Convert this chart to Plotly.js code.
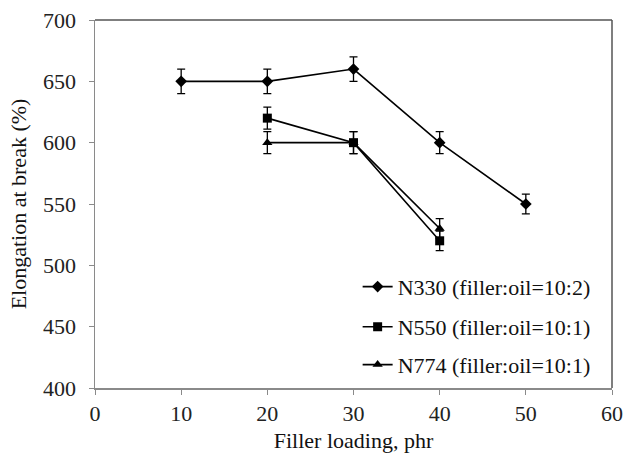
<!DOCTYPE html>
<html><head><meta charset="utf-8">
<script src="https://cdn.plot.ly/plotly-3.0.1.min.js"></script>
<style>body{margin:0;background:#fff}#c{width:624px;height:453px}</style>
</head><body><div id="c"></div>
<script>
const n330_x = [10, 20, 30, 40, 50];
const n330_y = [650, 650, 660, 600, 550];
const n330_err = [10, 10, 10, 9, 8];
const n550_x = [20, 30, 40];
const n550_y = [620, 600, 520];
const n550_err = [9, 9, 8];
const n774_x = [20, 30, 40];
const n774_y = [600, 600, 530];
const n774_err = [9, 9, 8];
const names = ["N330 (filler:oil=10:2)", "N550 (filler:oil=10:1)", "N774 (filler:oil=10:1)"];

const FONT = "'Liberation Serif', 'Times New Roman', serif";
function tr(x, y, e, name, sym, lg) {
  return {x: x, y: y, name: name, type: 'scatter', mode: 'lines+markers', legend: lg, showlegend: true,
    line: {color: '#000', width: 1.6},
    marker: {symbol: sym, size: 9, color: '#000'},
    error_y: {type: 'data', array: e, visible: true, color: '#000', thickness: 1.3, width: 4}};
}
const data = [
  tr(n330_x, n330_y, n330_err, names[0], 'diamond', 'legend'),
  tr(n550_x, n550_y, n550_err, names[1], 'square', 'legend2'),
  tr(n774_x, n774_y, n774_err, names[2], 'triangle-up', 'legend3')
];
const lfont = {family: FONT, size: 22, color: '#111'};
function lg(y) { return {x: 0.508, xanchor: 'left', y: y, yanchor: 'middle', font: lfont, bgcolor: 'rgba(0,0,0,0)', itemwidth: 30}; }
const layout = {
  width: 624, height: 453,
  showlegend: true,
  margin: {l: 95, r: 12, t: 20, b: 65},
  paper_bgcolor: '#fff', plot_bgcolor: '#fff',
  font: {family: FONT, size: 22, color: '#222'},
  xaxis: {range: [0, 60], dtick: 10, tick0: 0, showgrid: false, zeroline: false,
    showline: true, linecolor: '#8a8a8a', linewidth: 1.5, ticks: 'outside', ticklen: 5, tickcolor: '#8a8a8a',
    tickfont: {family: FONT, size: 22, color: '#222'},
    title: {text: 'Filler loading, phr', font: {family: FONT, size: 22, color: '#111'}, standoff: 24}},
  yaxis: {range: [400, 700], dtick: 50, showgrid: false, zeroline: false,
    showline: true, linecolor: '#8a8a8a', linewidth: 1.5, ticks: 'outside', ticklen: 5, tickcolor: '#8a8a8a',
    ticklabelstandoff: 8,
    tickfont: {family: FONT, size: 22, color: '#222'},
    title: {text: 'Elongation at break (%)', font: {family: FONT, size: 22, color: '#111'}, standoff: 10}},
  shapes: [
    {type: 'line', xref: 'paper', yref: 'paper', x0: 0, x1: 1, y0: 1, y1: 1, line: {color: '#555', width: 1.5}},
    {type: 'line', xref: 'paper', yref: 'paper', x0: 1, x1: 1, y0: 0, y1: 1, line: {color: '#555', width: 1.5}}
  ],
  legend: lg(0.275), legend2: lg(0.166), legend3: lg(0.063)
};
Plotly.newPlot('c', data, layout, {displayModeBar: false, staticPlot: true});
</script></body></html>
